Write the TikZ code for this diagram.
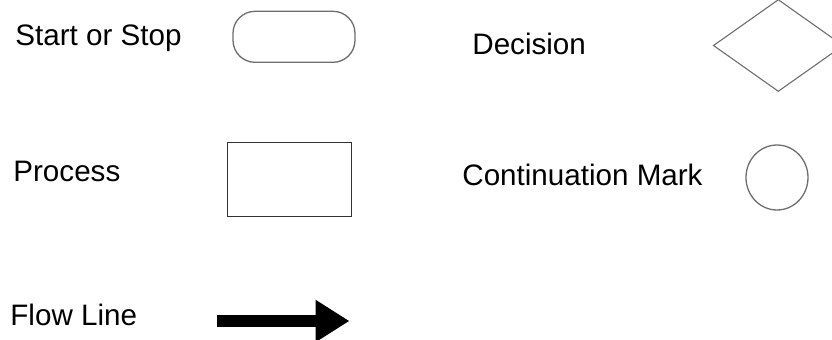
\documentclass[tikz,border=0pt]{standalone}
\usepackage{fontspec}
\setmainfont{Liberation Sans}
\usetikzlibrary{shapes.geometric,arrows.meta}
\definecolor{shapegray}{HTML}{6E6E6E}
\definecolor{boxgray}{HTML}{333333}

\begin{document}
\begin{tikzpicture}[x=0.5pt, y=-0.5pt,
  legendtext/.style={anchor=base west, inner sep=0pt, font=\fontsize{14.8}{17}\selectfont},
  startstop/.style={draw=shapegray, line width=0.65pt, rectangle, rounded corners=11pt,
    minimum width=61pt, minimum height=25.5pt, inner sep=0pt},
  processbox/.style={draw=boxgray, line width=0.55pt, rectangle,
    minimum width=62.3pt, minimum height=37.2pt, inner sep=0pt},
  decisionshape/.style={draw=shapegray, line width=0.55pt, diamond,
    minimum width=65pt, minimum height=46pt, inner sep=0pt},
  contmark/.style={draw=shapegray, line width=0.65pt, ellipse,
    minimum width=31pt, minimum height=32.5pt, inner sep=0pt},
  flowline/.style={line width=6.2pt, -{Triangle[length=17pt, width=20pt]}}]
  \useasboundingbox [fill=white] (0,0) rectangle (832,339);
  \clip (0,0) rectangle (832,339);
  % Labels
  \node [legendtext] (startlabel) at (15,45) {Start or Stop};
  \node [legendtext] (decisionlabel) at (472,54) {Decision};
  \node [legendtext] (processlabel) at (13,181.7) {Process};
  \node [legendtext] (contlabel) at (462,185.7) {Continuation Mark};
  \node [legendtext] (flowlabel) at (10,325) {Flow Line};
  % Symbols
  \node [startstop] (startsym) at (294,36.8) {};
  \node [decisionshape] (decisionsym) at (778.3,45.5) {};
  \node [processbox] (processsym) at (289.4,179.5) {};
  \node [contmark] (contsym) at (777,177.5) {};
  % Flow line
  \coordinate (flowtail) at (217,321);
  \coordinate (flowhead) at (349.5,321);
  \draw [flowline] (flowtail) -- (flowhead);
\end{tikzpicture}
\end{document}
